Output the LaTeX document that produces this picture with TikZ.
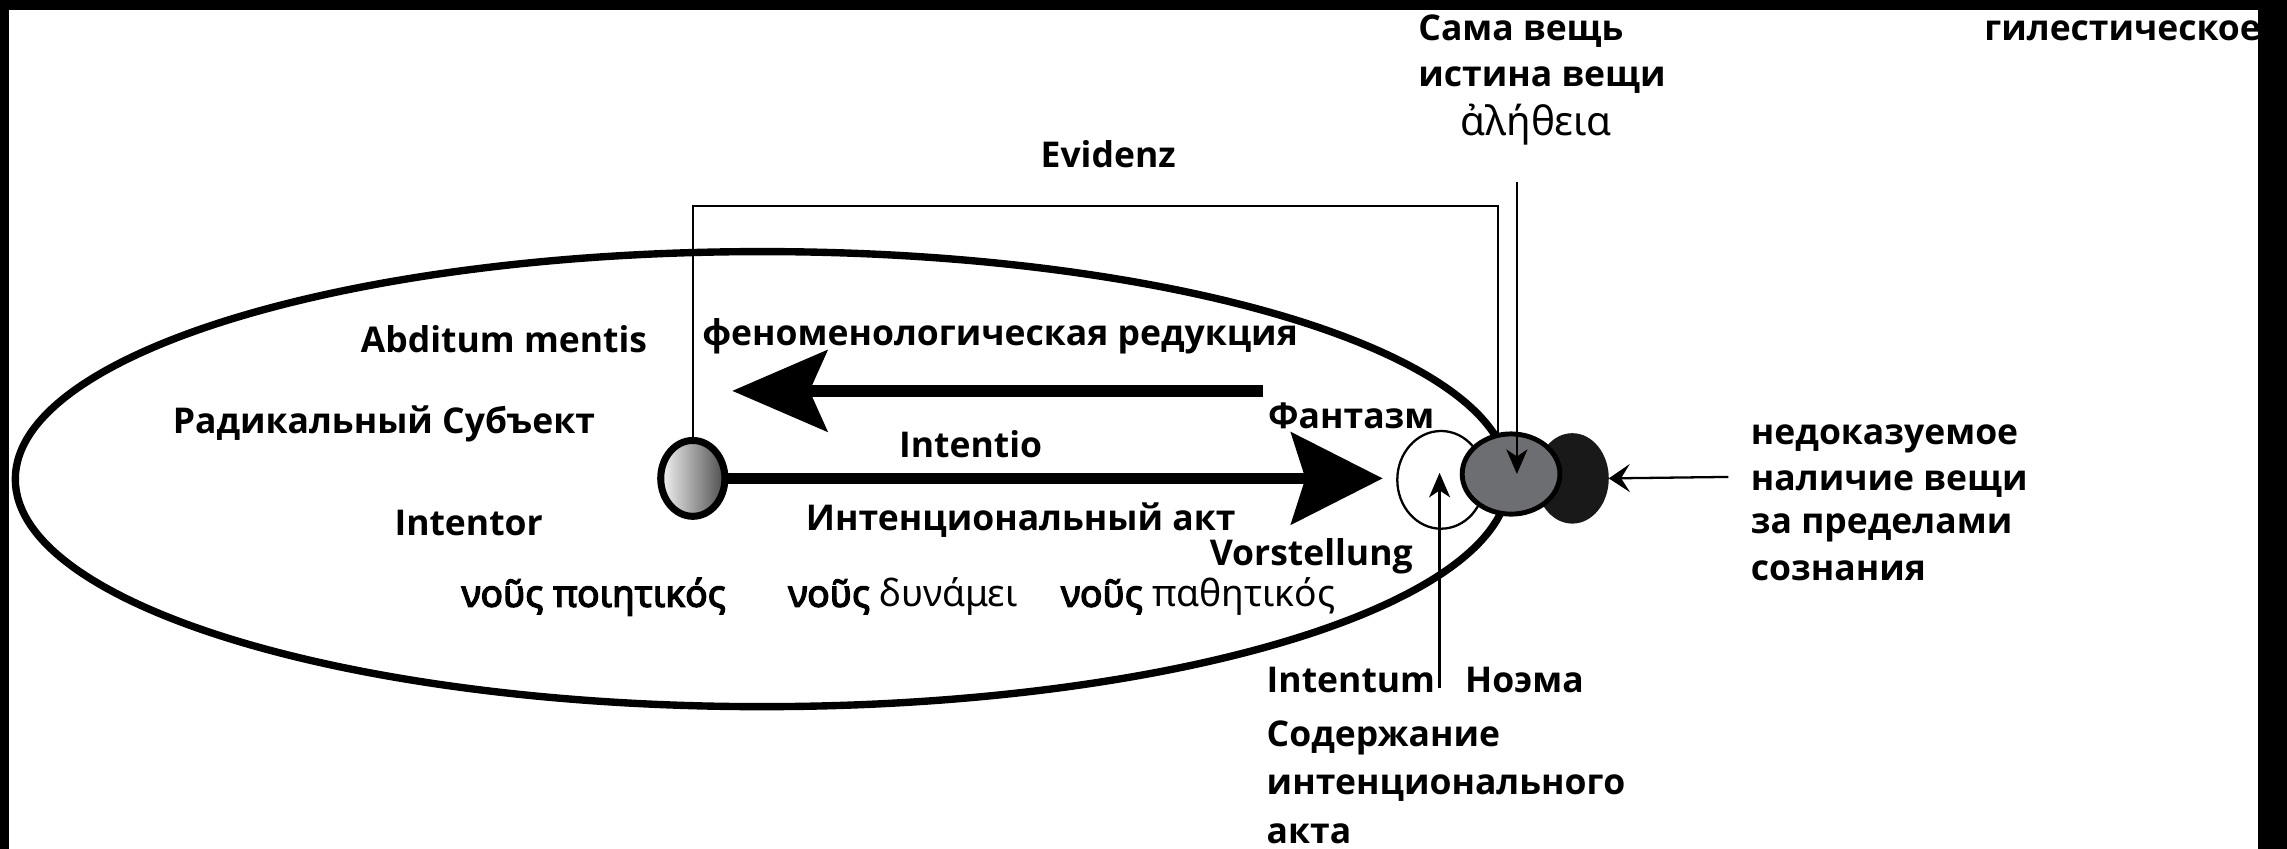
\documentclass[tikz,border=0pt]{standalone}
\usepackage{fontspec}
\setmainfont{Open Sans}
\newfontfamily\grkfont{Noto Sans}[BoldFont={Noto Sans}, BoldFeatures={FakeBold=3.5}]
\usetikzlibrary{arrows.meta,shapes.geometric}

\newdimen\upx \upx=0.14586mm
\definecolor{thinggray}{HTML}{6D6E71}

\tikzset{
  lbl/.style={font=\fontsize{10.1}{12}\selectfont\bfseries, inner sep=0pt, anchor=base west},
  grk/.style={font=\fontsize{11.5}{13}\selectfont\grkfont, inner sep=0pt, anchor=base},
  nous/.style={lbl, font=\fontsize{10.6}{12}\selectfont\bfseries\grkfont},
  thinln/.style={line width=0.65pt},
  fatarrow/.style={line width=3.2pt},
  blob/.style={ellipse, inner sep=0pt, outer sep=0pt}
}

\begin{document}
\begin{tikzpicture}[x=0.14586mm, y=-0.14586mm]
  \useasboundingbox (0,0) rectangle (1568,582);
  % scan frame
  \fill (0,0) rectangle (1568,7);
  \fill (0,0) rectangle (6,582);
  \fill (1548,0) rectangle (1568,582);

  % the mind
  \node[blob, draw, line width=2.1pt, minimum width=1024*\upx, minimum height=312*\upx] (mind) at (522.5,328.5) {};

  % subject, phantasm, thing
  \node[blob, draw, line width=2pt, minimum width=44*\upx, minimum height=52*\upx,
        left color=gray!8, right color=black!70] (subj) at (475,328) {};
  \node[blob, draw, thinln, fill=white, minimum width=60*\upx, minimum height=67*\upx] (phant) at (988,329) {};
  \node[blob, fill=black!90, minimum width=50*\upx, minimum height=62*\upx] (blk) at (1078,328) {};
  \node[blob, draw, line width=1.4pt, fill=thinggray, minimum width=67*\upx, minimum height=55*\upx] (thing) at (1036,325) {};

  % Evidenz bracket
  \coordinate (evR) at (1027,141);
  \draw[thinln] (subj.north) |- (evR) -- (evR |- thing.north);

  % reduction and intentional act
  \coordinate (redA) at (866,268);
  \coordinate (redB) at (502,268);
  \coordinate (acttip) at (948,328);
  \draw[fatarrow, -{Stealth[length=27pt,width=23pt,inset=5pt]}] (redA) -- (redB);
  \draw[fatarrow, -{Stealth[length=26pt,width=26pt,inset=4pt]}] (subj.east) -- (acttip);

  % thin arrows
  \coordinate (alet) at (1040,125);
  \coordinate (intum) at (987,472);
  \coordinate (hyle) at (1185,327);
  \draw[thinln, -{Stealth[length=7pt,width=6pt,inset=2pt]}] (alet) -- (alet |- thing.center);
  \draw[thinln, -{Stealth[length=7pt,width=6pt,inset=2pt]}] (intum) -- ([yshift=2pt]intum |- phant.center);
  \draw[thinln, -{Stealth[length=6pt,width=8pt,inset=2.5pt]}] (hyle) -- (blk.east);

  % labels
  \node[lbl] (sama) at (972,28) {Сама вещь};
  \node[lbl] (istina) at (972,59) {истина вещи};
  \node[grk] (aleth) at (1053,93) {ἀλήθεια};
  \node[lbl] (gyle) at (1360,28) {гилестическое};
  \node[lbl] (evid) at (713,115) {Evidenz};
  \node[lbl] (abd) at (247,242) {Abditum mentis};
  \node[lbl] (red) at (481,237) {феноменологическая редукция};
  \node[lbl] (radsub) at (118,297) {Радикальный Субъект};
  \node[lbl] (fant) at (869,294) {Фантазм};
  \node[lbl] (intentio) at (616,314) {Intentio};
  \node[lbl] (intentor) at (270,367) {Intentor};
  \node[lbl] (iact) at (552,364) {Интенциональный акт};
  \node[lbl] (vorst) at (829,388) {Vorstellung};
  \node[nous] (nous1) at (316,416) {νοῦς ποιητικός};
  \node[nous] (nous2) at (540,416) {νοῦς \mdseries δυνάμει};
  \node[nous] (nous3) at (727,416) {νοῦς \mdseries παθητικός};
  \node[lbl] (intentum) at (868,475) {Intentum};
  \node[lbl] (noema) at (1004,475) {Ноэма};
  \node[lbl] (sod1) at (868,512) {Содержание};
  \node[lbl] (sod2) at (868,545) {интенционального};
  \node[lbl] (sod3) at (868,578) {акта};
  \node[lbl] (nal1) at (1200,305) {недоказуемое};
  \node[lbl] (nal2) at (1200,336) {наличие вещи};
  \node[lbl] (nal3) at (1200,366) {за пределами};
  \node[lbl] (nal4) at (1200,398) {сознания};
\end{tikzpicture}
\end{document}
